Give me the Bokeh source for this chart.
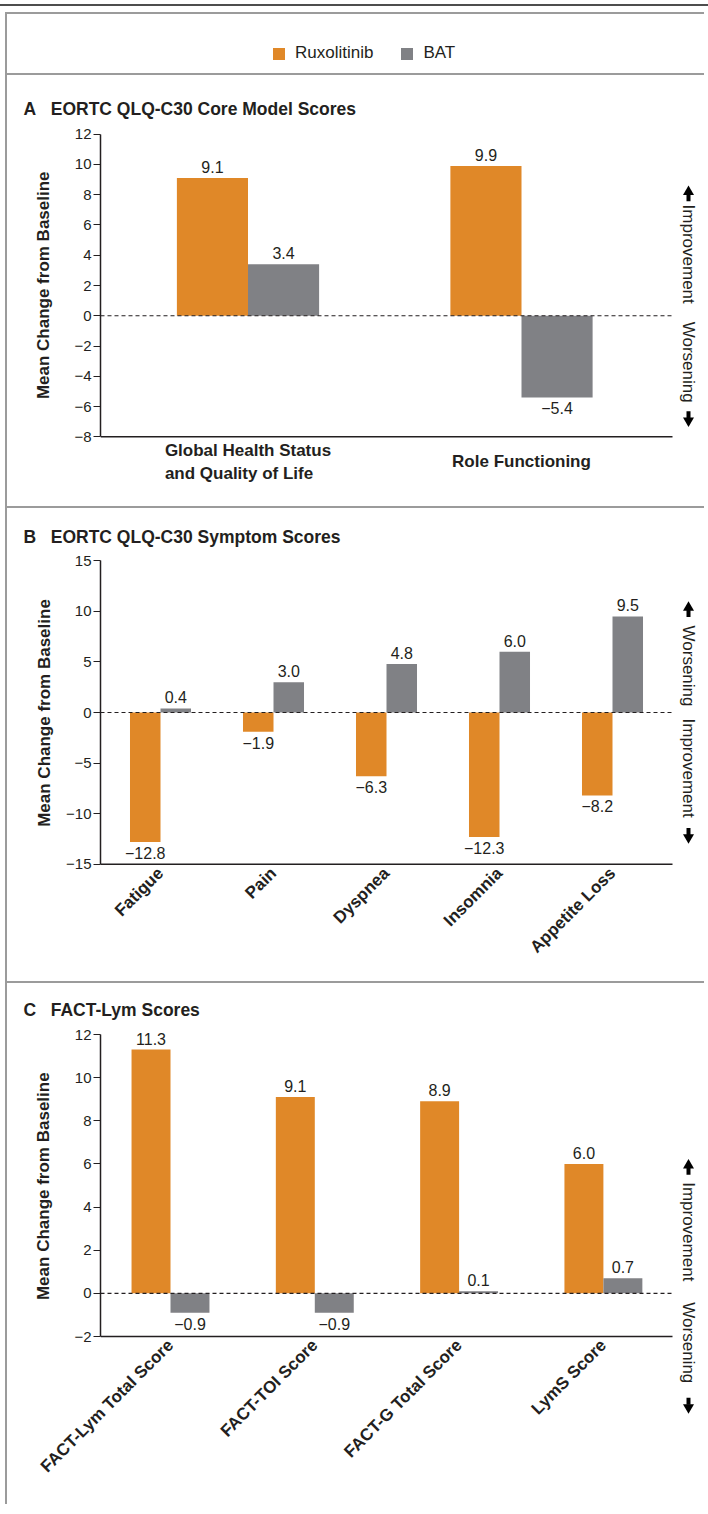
import math
from bokeh.plotting import figure
from bokeh.layouts import column, row
from bokeh.models import (ColumnDataSource, Range1d, Label, LabelSet,
                          Legend, LegendItem, FixedTicker, Div, Spacer)
from bokeh.core.properties import value
from bokeh.transform import dodge
from bokeh.embed import file_html
from bokeh.resources import INLINE

# ---------------- data ----------------
a_cats = ["Global Health Status\nand Quality of Life", "Role Functioning"]
a_rux = [9.1, 9.9]
a_bat = [3.4, -5.4]
a_ticks = [-8, -6, -4, -2, 0, 2, 4, 6, 8, 10, 12]

b_cats = ["Fatigue", "Pain", "Dyspnea", "Insomnia", "Appetite Loss"]
b_rux = [-12.8, -1.9, -6.3, -12.3, -8.2]
b_bat = [0.4, 3.0, 4.8, 6.0, 9.5]
b_ticks = [-15, -10, -5, 0, 5, 10, 15]

c_cats = ["FACT-Lym Total Score", "FACT-TOI Score", "FACT-G Total Score", "LymS Score"]
c_rux = [11.3, 9.1, 8.9, 6.0]
c_bat = [-0.9, -0.9, 0.1, 0.7]
c_ticks = [-2, 0, 2, 4, 6, 8, 10, 12]

series_names = ["Ruxolitinib", "BAT"]
y_title = "Mean Change from Baseline"

# ---------------- style ----------------
ORANGE = "#E08828"
GRAY = "#808185"
INK = "#231f20"
FONT = "Liberation Sans"
BORDER = "2px solid #9b9b9b"
W = 699          # canvas width of each figure
ML = 93          # left margin -> frame starts at page x = 100
PAGE0 = 7        # page x of canvas origin
AX_END = 672     # page x where the x axis ends
SIDE_X = 688     # page x of the side annotations
NBSP_W = 0.278 * 17   # width of a no-break space in the bold 17px axis title


def minus(s):
    return s.replace("-", "\u2212")


def panel(title, cats, rux, bat, yr, ticks, height, top, bottom, ax_top, ax_bot,
          bar_w, x0, u, orient, labelset, side, lab_standoff, t_standoff):
    n = len(cats)
    idx = list(range(n))
    xs0 = (PAGE0 + ML - x0) / u
    xs1 = (PAGE0 + W - x0) / u
    f_bot = height - bottom
    ppu = (ax_bot - ax_top) / (yr[1] - yr[0])
    y_hi = yr[1] + (ax_top - top) / ppu
    y_lo = yr[0] - (f_bot - ax_bot) / ppu
    p = figure(x_range=Range1d(xs0, xs1), y_range=Range1d(y_lo, y_hi),
               width=W, height=height,
               output_backend="svg", toolbar_location=None,
               min_border_left=ML, min_border_right=0,
               min_border_top=top, min_border_bottom=bottom,
               background_fill_color="white", border_fill_color="white",
               outline_line_color=None,
               styles={"border-top": BORDER, "border-left": BORDER})
    p.title.text = title
    p.title.text_font = FONT
    p.title.text_font_size = "17.5px"
    p.title.text_font_style = "bold"
    p.title.text_color = INK
    p.title.align = "left"
    p.title.offset = -77
    p.title.standoff = t_standoff

    src = ColumnDataSource(dict(i=idx, rux=rux, bat=bat))
    p.vbar(x=dodge("i", -bar_w / 2), top="rux", bottom=0, width=bar_w,
           source=src, fill_color=ORANGE, line_color=None)
    p.vbar(x=dodge("i", bar_w / 2), top="bat", bottom=0, width=bar_w,
           source=src, fill_color=GRAY, line_color=None)

    # value labels
    for vals, off in ((rux, -bar_w / 2), (bat, bar_w / 2)):
        pos = [(i, v) for i, v in zip(idx, vals) if v >= 0]
        neg = [(i, v) for i, v in zip(idx, vals) if v < 0]
        for items, base, yo in ((pos, "bottom", 5), (neg, "top", -5)):
            if not items:
                continue
            s = ColumnDataSource(dict(i=[c for c, _ in items], v=[v for _, v in items],
                                      t=[minus(f"{v:.1f}") for _, v in items]))
            p.add_layout(LabelSet(x=dodge("i", off), y="v", text="t", source=s,
                                  text_align="center", text_baseline=base, y_offset=yo,
                                  text_font=value(FONT), text_font_size=value("16px"),
                                  text_color=INK))

    ax_end = (AX_END - x0) / u
    # dashed zero line and x axis line
    p.segment(x0=xs0, y0=0, x1=ax_end, y1=0, line_color=INK, line_width=1.2, line_dash="4 3")
    p.segment(x0=xs0, y0=yr[0], x1=ax_end, y1=yr[0], line_color=INK, line_width=1.6)

    p.xgrid.visible = False
    p.ygrid.visible = False

    # x axis: category labels only
    xa = p.xaxis[0]
    xa.axis_line_color = None
    xa.major_tick_line_color = None
    xa.minor_tick_line_color = None
    xa.major_tick_in = 0
    xa.major_tick_out = 0
    if labelset:
        # horizontal, vertically centred category names drawn inside the taller frame
        xa.ticker = FixedTicker(ticks=[])
        csrc = ColumnDataSource(dict(i=idx, base=[yr[0]] * n, name=cats))
        p.add_layout(LabelSet(x="i", y="base", text="name", source=csrc,
                              text_align="center", text_baseline="middle", y_offset=-25,
                              text_font=value(FONT), text_font_size=value("17px"),
                              text_font_style="bold", text_color=INK))
    else:
        xa.ticker = FixedTicker(ticks=idx)
        xa.major_label_overrides = {i: c for i, c in zip(idx, cats)}
        xa.major_label_text_font = FONT
        xa.major_label_text_font_size = "17px"
        xa.major_label_text_font_style = "bold"
        xa.major_label_text_color = INK
        xa.major_label_standoff = round(ax_bot + 6 - f_bot)
        if orient:
            xa.major_label_orientation = orient

    # y axis
    ya = p.yaxis[0]
    ya.bounds = (yr[0], yr[1])
    ya.ticker = FixedTicker(ticks=ticks)
    ya.major_label_overrides = {t: minus(str(t)) for t in ticks}
    ya.minor_tick_line_color = None
    ya.major_tick_in = 0
    ya.major_tick_out = 7
    ya.major_label_standoff = 2
    ya.axis_line_width = 1.5
    ya.axis_line_color = INK
    ya.major_tick_line_color = INK
    ya.major_tick_line_width = 1.2
    ya.major_label_text_font = FONT
    ya.major_label_text_font_size = "15px"
    ya.major_label_text_color = INK
    # keep the axis title centred on the bounded axis when the frame is taller
    shift = (top + f_bot) / 2 - (ax_top + ax_bot) / 2
    pad = "\u00a0" * max(0, round(2 * shift / NBSP_W))
    ya.axis_label = pad + y_title
    ya.axis_label_text_font = FONT
    ya.axis_label_text_font_size = "17px"
    ya.axis_label_text_font_style = "bold"
    ya.axis_label_text_color = INK
    ya.axis_label_standoff = lab_standoff

    # side annotations (Improvement / Worsening) with block arrows
    top_text, bot_text, gap_top, gap_bot, up_px, dn_px = side
    xs = (SIDE_X - x0) / u
    p.add_layout(Label(x=xs, y=gap_top / ppu, text=top_text, angle=-math.pi / 2,
                       text_align="right", text_baseline="middle", text_font=FONT,
                       text_font_size="17px", text_color=INK))
    p.add_layout(Label(x=xs, y=-gap_bot / ppu, text=bot_text, angle=-math.pi / 2,
                       text_align="left", text_baseline="middle", text_font=FONT,
                       text_font_size="17px", text_color=INK))
    p.scatter(x=[xs], y=[(up_px + 3) / ppu], marker="triangle", size=11,
              fill_color="black", line_color=None)
    p.rect(x=[xs], y=[(up_px - 3) / ppu], width=4, height=7, width_units="screen",
           height_units="screen", fill_color="black", line_color=None)
    p.scatter(x=[xs], y=[-(dn_px + 3) / ppu], marker="inverted_triangle", size=11,
              fill_color="black", line_color=None)
    p.rect(x=[xs], y=[-(dn_px - 3) / ppu], width=4, height=7, width_units="screen",
           height_units="screen", fill_color="black", line_color=None)
    return p


NB = "\u00a0\u00a0\u00a0"
pA = panel("A" + NB + "EORTC QLQ-C30 Core Model Scores", a_cats, a_rux, a_bat, (-8, 12), a_ticks,
           433, 58, 10, 58.7, 361.3, 0.26, 247.5, 273.5, None, True,
           ("Improvement", "Worsening", 12, 6, 121, 102), 18, 29)
pB = panel("B" + NB + "EORTC QLQ-C30 Symptom Scores", b_cats, b_rux, b_bat, (-15, 15), b_ticks,
           475, 52, 118, 52.3, 355.7, 0.27, 160, 113, math.pi / 4, False,
           ("Worsening", "Improvement", 6, 6, 102, 122), 9, 27)
pC = panel("C" + NB + "FACT-Lym Scores", c_cats, c_rux, c_bat, (-2, 12), c_ticks,
           523, 46, 88, 51, 353, 0.27, 170, 144.3, math.pi / 4, False,
           ("Improvement", "Worsening", 12, 9, 125, 111), 18, 19)

# legend strip
pl = figure(width=W, height=61, x_range=Range1d(0, 1), y_range=Range1d(0, 1),
            output_backend="svg", toolbar_location=None,
            min_border_left=ML, min_border_right=0, min_border_top=0, min_border_bottom=0,
            x_axis_type=None, y_axis_type=None, outline_line_color=None,
            styles={"border-top": BORDER, "border-left": BORDER})
r1 = pl.vbar(x=[-5], top=[0], width=0.1, fill_color=ORANGE, line_color=None)
r2 = pl.vbar(x=[-5], top=[0], width=0.1, fill_color=GRAY, line_color=None)
leg = Legend(items=[LegendItem(label=series_names[0], renderers=[r1]),
                    LegendItem(label=series_names[1], renderers=[r2])],
             orientation="horizontal", location=(171, 12), glyph_width=15, glyph_height=15,
             label_height=15, label_standoff=9, spacing=26, padding=0, margin=0,
             border_line_color=None, background_fill_alpha=0,
             label_text_font=FONT, label_text_font_size="17px", label_text_color=INK)
pl.add_layout(leg, "center")

topline = Div(text="", width=708, height=2, margin=(0, 0, 0, 0),
              styles={"background-color": "#4d4d4d"})

inner = column(pl, pA, pB, pC, spacing=0)
layout = column(Spacer(width=708, height=4), topline, Spacer(width=708, height=6),
                row(Spacer(width=5, height=10), inner, spacing=0), spacing=0)

open("out.html", "w").write(file_html(layout, INLINE))
